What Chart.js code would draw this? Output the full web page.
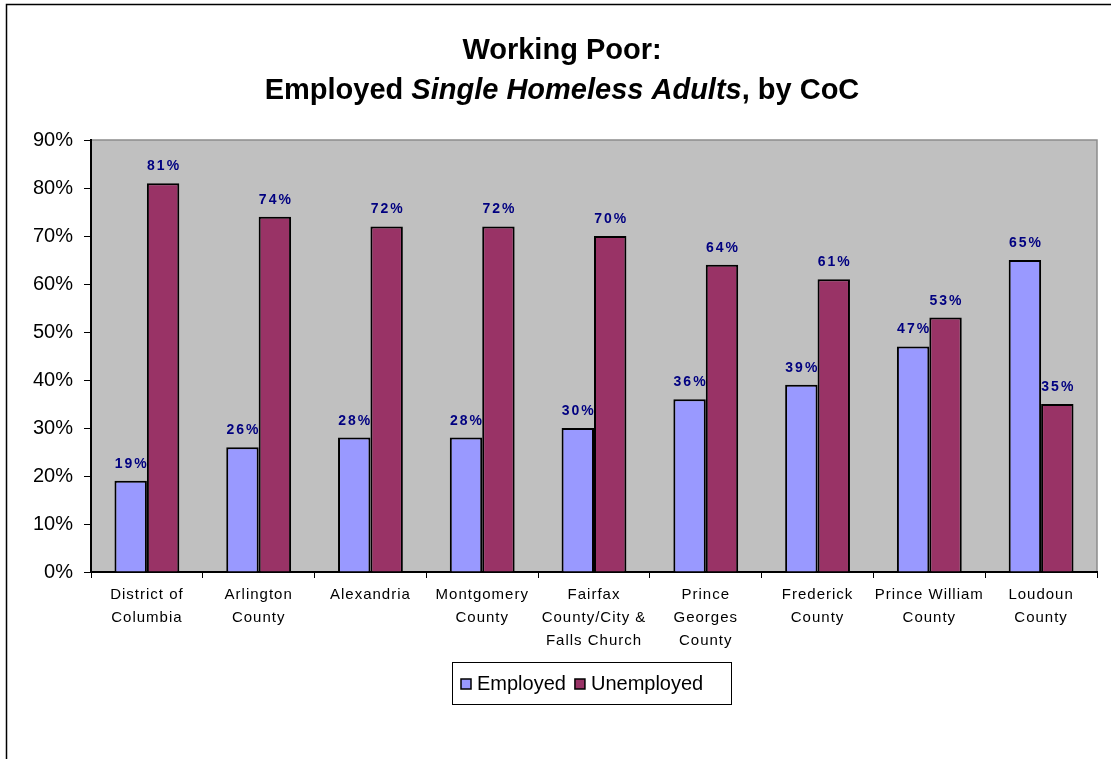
<!DOCTYPE html>
<html>
<head>
<meta charset="utf-8">
<title>Working Poor</title>
<script src="https://cdn.jsdelivr.net/npm/chart.js@4.4.1/dist/chart.umd.min.js"></script>
<style>
  html, body { margin: 0; padding: 0; background: #fff; }
  #wrap { position: relative; width: 1111px; height: 759px; }
</style>
</head>
<body>
<div id="wrap"><canvas id="chart"></canvas></div>
<script>
// CoC names (multi-line tick labels)
const categories = [
  ["District of", "Columbia"],
  ["Arlington", "County"],
  ["Alexandria"],
  ["Montgomery", "County"],
  ["Fairfax", "County/City &", "Falls Church"],
  ["Prince", "Georges", "County"],
  ["Frederick", "County"],
  ["Prince William", "County"],
  ["Loudoun", "County"],
];

const employed = [19, 26, 28, 28, 30, 36, 39, 47, 65];
const unemployed = [81, 74, 72, 72, 70, 64, 61, 53, 35];

const yTicks = [0, 10, 20, 30, 40, 50, 60, 70, 80, 90];

const FONT = "Arial, 'Liberation Sans', sans-serif";

// grey plot area + outer frame
const backdrop = {
  id: "backdrop",
  beforeDraw(chart) {
    const { ctx, chartArea: a } = chart;
    ctx.letterSpacing = "0px";
    ctx.save();
    ctx.fillStyle = "#fff";
    ctx.fillRect(0, 0, chart.width, chart.height);
    ctx.strokeStyle = "#000";
    ctx.lineWidth = 1.5;
    ctx.strokeRect(6.5, 4.5, 1300, 1000);
    ctx.fillStyle = "#c0c0c0";
    ctx.fillRect(a.left, a.top, a.right - a.left, a.bottom - a.top);
    ctx.strokeStyle = "#8c8c8c";
    ctx.lineWidth = 1.5;
    ctx.beginPath();
    ctx.moveTo(a.left, a.top);
    ctx.lineTo(a.right, a.top);
    ctx.lineTo(a.right, a.bottom);
    ctx.stroke();
    ctx.restore();
  },
};

// two-line title, second line mixes bold and bold-italic
const titlePlugin = {
  id: "mixedTitle",
  afterDraw(chart) {
    const ctx = chart.ctx;
    const cx = 562;
    ctx.save();
    ctx.letterSpacing = "0px";
    ctx.fillStyle = "#000";
    ctx.textBaseline = "alphabetic";
    ctx.textAlign = "center";
    ctx.font = "bold 29px " + FONT;
    ctx.fillText("Working Poor:", cx, 59);

    const parts = [
      { t: "Employed ", f: "bold 29px " + FONT },
      { t: "Single Homeless Adults", f: "italic bold 29px " + FONT },
      { t: ", by CoC", f: "bold 29px " + FONT },
    ];
    let total = 0;
    parts.forEach((p) => { ctx.font = p.f; p.w = ctx.measureText(p.t).width; total += p.w; });
    let x = cx - total / 2;
    ctx.textAlign = "left";
    parts.forEach((p) => { ctx.font = p.f; ctx.fillText(p.t, x, 99); x += p.w; });
    ctx.restore();
  },
};

// value labels above each bar; then widen spacing for the category labels drawn next
const valueLabels = {
  id: "valueLabels",
  afterDatasetsDraw(chart) {
    const ctx = chart.ctx;
    ctx.save();
    ctx.fillStyle = "#000080";
    ctx.font = "bold 14px " + FONT;
    ctx.letterSpacing = "2px";
    ctx.textAlign = "center";
    ctx.textBaseline = "alphabetic";
    chart.data.datasets.forEach((ds, i) => {
      chart.getDatasetMeta(i).data.forEach((bar, j) => {
        ctx.fillText(ds.data[j] + "%", bar.x + 1, bar.y - 13);
      });
    });
    ctx.restore();
    ctx.letterSpacing = "1px";
  },
};

// boxed legend under the axis labels
const boxLegend = {
  id: "boxLegend",
  afterDraw(chart) {
    const ctx = chart.ctx;
    const bx = 452, by = 662, bw = 279, bh = 42;
    ctx.save();
    ctx.letterSpacing = "0px";
    ctx.strokeStyle = "#000";
    ctx.lineWidth = 1;
    ctx.strokeRect(bx + 0.5, by + 0.5, bw, bh);
    ctx.font = "20px " + FONT;
    ctx.textBaseline = "middle";
    let x = bx + 9;
    const cy = by + bh / 2 + 1;
    chart.data.datasets.forEach((ds) => {
      ctx.fillStyle = ds.backgroundColor;
      ctx.fillRect(x, cy - 5, 10, 10);
      ctx.strokeStyle = "#000";
      ctx.lineWidth = 1.5;
      ctx.strokeRect(x, cy - 5, 10, 10);
      ctx.fillStyle = "#000";
      ctx.fillText(ds.label, x + 16, cy);
      x += 16 + ctx.measureText(ds.label).width + 9;
    });
    ctx.restore();
    ctx.letterSpacing = "0px";
  },
};

new Chart(document.getElementById("chart"), {
  type: "bar",
  data: {
    labels: categories,
    datasets: [
      {
        label: "Employed",
        data: employed,
        backgroundColor: "#9999ff",
        borderColor: "#000",
        borderWidth: 2,
        borderSkipped: "bottom",
        categoryPercentage: 0.58,
        barPercentage: 1.0,
      },
      {
        label: "Unemployed",
        data: unemployed,
        backgroundColor: "#993366",
        borderColor: "#000",
        borderWidth: 2,
        borderSkipped: "bottom",
        categoryPercentage: 0.58,
        barPercentage: 1.0,
      },
    ],
  },
  options: {
    responsive: true,
    maintainAspectRatio: false,
    animation: false,
    layout: { padding: { top: 140, right: 14, left: 0, bottom: 0 } },
    plugins: {
      legend: { display: false },
      title: { display: false },
      tooltip: { enabled: false },
    },
    scales: {
      x: {
        grid: {
          offset: true,
          drawOnChartArea: false,
          drawTicks: true,
          tickLength: 6,
          color: "#000",
          lineWidth: 1,
        },
        border: { color: "#000", width: 2 },
        ticks: {
          z: 1,
          color: "#000",
          font: { family: FONT, size: 15, lineHeight: 1.53 },
          padding: 5,
          maxRotation: 0,
          autoSkip: false,
        },
        afterFit(scale) { scale.height = 187; },
      },
      y: {
        min: 0,
        max: 90,
        afterBuildTicks(scale) { scale.ticks = yTicks.map((v) => ({ value: v })); },
        grid: {
          drawOnChartArea: false,
          drawTicks: true,
          tickLength: 7,
          color: "#000",
        },
        border: { color: "#000", width: 2 },
        ticks: {
          color: "#000",
          font: { family: FONT, size: 20 },
          padding: 11,
          callback: (v) => v + "%",
        },
        afterFit(scale) { scale.width = 91; },
      },
    },
  },
  plugins: [backdrop, valueLabels, titlePlugin, boxLegend],
});
</script>
</body>
</html>
